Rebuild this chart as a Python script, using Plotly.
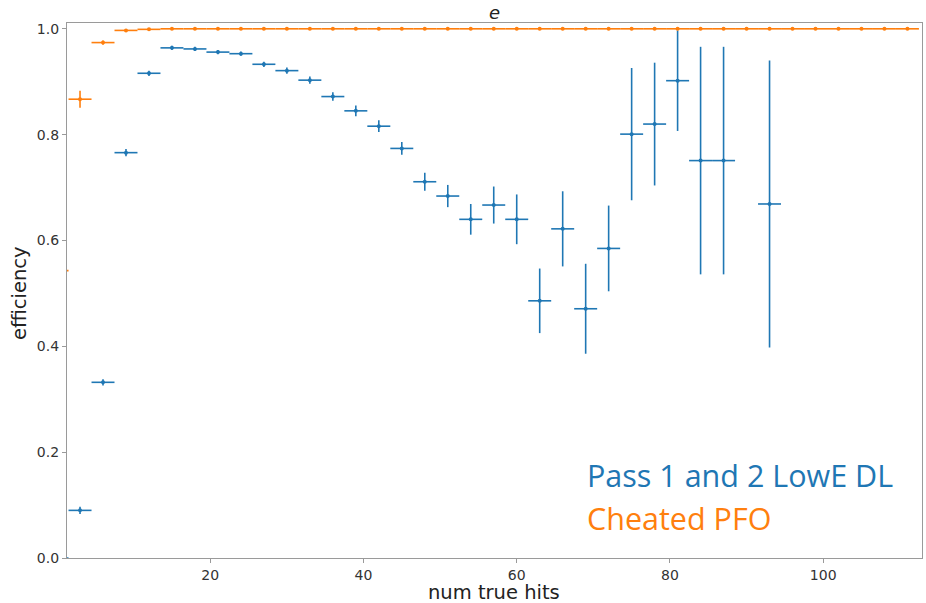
import plotly.graph_objects as go

# bin centres (num true hits), bins of width 3
x_orange = list(range(0, 112, 3))
y_orange = [0.543, 0.867, 0.974, 0.997, 0.999] + [1.0] * (len(x_orange) - 5)
ey_orange = [0.05, 0.016, 0.004, 0.002, 0.001] + [0.0] * (len(x_orange) - 5)

x_blue = [0, 3, 6, 9, 12, 15, 18, 21, 24, 27, 30, 33, 36, 39, 42, 45, 48, 51,
          54, 57, 60, 63, 66, 69, 72, 75, 78, 81, 84, 87, 93]
y_blue = [0.0, 0.090, 0.332, 0.766, 0.916, 0.964, 0.962, 0.956, 0.953, 0.933,
          0.921, 0.903, 0.872, 0.845, 0.816, 0.774, 0.711, 0.684, 0.640, 0.667,
          0.640, 0.486, 0.622, 0.471, 0.585, 0.801, 0.820, 0.902, 0.751, 0.751,
          0.669]
ey_blue = [0.0, 0.007, 0.006, 0.007, 0.005, 0.004, 0.004, 0.004, 0.004, 0.005,
           0.006, 0.007, 0.008, 0.010, 0.011, 0.012, 0.017, 0.021, 0.029, 0.035,
           0.047, 0.061, 0.071, 0.085, 0.081, 0.125, 0.116, 0.095, 0.215, 0.215,
           0.271]
half_bin = 1.5

blue = "#1f77b4"
orange = "#ff7f0e"

L, R, T, B = 67, 4, 23, 45
W, H = 926, 603

def px_to_paper(px, py):
    return (px - L) / (W - L - R), 1 - (py - T) / (H - T - B)

fig = go.Figure()
for xs, ys, eys, col in [(x_blue, y_blue, ey_blue, blue), (x_orange, y_orange, ey_orange, orange)]:
    fig.add_trace(go.Scatter(
        x=xs, y=ys, mode="markers",
        marker=dict(color=col, size=4),
        error_x=dict(type="constant", value=half_bin, color=col, thickness=1.6, width=0),
        error_y=dict(type="data", array=eys, color=col, thickness=1.6, width=0),
        showlegend=False,
    ))

axis_common = dict(
    showgrid=False, zeroline=False, showline=True, mirror=True, automargin=False,
    linecolor="#9a9a9a", linewidth=1.2, ticks="outside", ticklen=4,
    tickcolor="#9a9a9a", tickfont=dict(family="DejaVu Sans", size=14, color="#333333"),
)
fig.update_xaxes(range=[1.3, 112.9], tickvals=[20, 40, 60, 80, 100], **axis_common)
fig.update_yaxes(range=[0, 1.011], tickvals=[0, 0.2, 0.4, 0.6, 0.8, 1.0], tickformat=".1f",
                 **axis_common)

label_font = dict(family="DejaVu Sans", size=19.5, color="#222222")
ax, ay = px_to_paper(494, 592)
fig.add_annotation(text="num true hits", x=ax, y=ay, xref="paper", yref="paper",
                   xanchor="center", yanchor="middle", showarrow=False, font=label_font)
ax, ay = px_to_paper(20, 293)
fig.add_annotation(text="efficiency", x=ax, y=ay, xref="paper", yref="paper", textangle=-90,
                   xanchor="center", yanchor="middle", showarrow=False, font=label_font)

fig.add_annotation(text="<i>e</i>", x=0.5, y=1.0, xref="paper", yref="paper",
                   yanchor="bottom", xanchor="center", yshift=-2, showarrow=False,
                   font=dict(family="DejaVu Sans", size=18, color="#222222"))

for txt, py, col in [("Pass 1 and 2 LowE DL", 475, blue), ("Cheated PFO", 518, orange)]:
    ax, ay = px_to_paper(585, py)
    fig.add_annotation(text=txt, x=ax, y=ay, xref="paper", yref="paper",
                       xanchor="left", yanchor="middle", showarrow=False,
                       font=dict(family="Open Sans", size=30.5, color=col))

fig.update_layout(
    width=W, height=H, margin=dict(l=L, r=R, t=T, b=B),
    plot_bgcolor="white", paper_bgcolor="white",
)
fig.write_html("out.html")
